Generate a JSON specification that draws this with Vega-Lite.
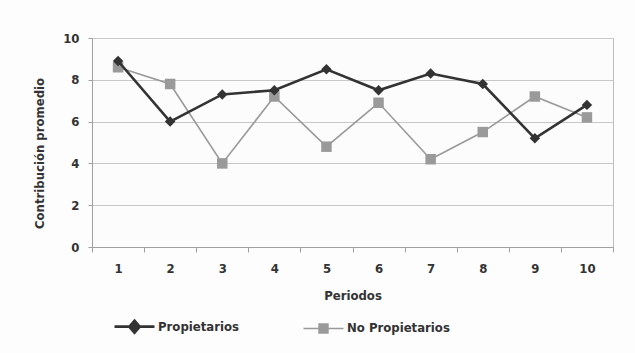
{
  "$schema": "https://vega.github.io/schema/vega-lite/v6.json",
  "width": 521,
  "height": 209,
  "autosize": "none",
  "padding": {"left": 92, "top": 38, "right": 22, "bottom": 106},
  "background": "#fdfdfd",
  "config": {
    "font": "DejaVu Sans Condensed, DejaVu Sans, sans-serif",
    "view": {"stroke": "#bdbdbd", "strokeWidth": 1, "fill": "#fcfcfc"},
    "axis": {
      "labelFont": "DejaVu Sans Condensed, DejaVu Sans, sans-serif",
      "titleFont": "DejaVu Sans Condensed, DejaVu Sans, sans-serif",
      "labelColor": "#333333",
      "titleColor": "#333333",
      "labelFontWeight": "bold",
      "titleFontWeight": "bold",
      "labelFontSize": 13,
      "titleFontSize": 13,
      "domainColor": "#a0a0a0",
      "tickColor": "#a0a0a0",
      "gridColor": "#c8c8c8"
    },
    "legend": {
      "labelFont": "DejaVu Sans Condensed, DejaVu Sans, sans-serif",
      "labelFontSize": 13,
      "labelFontWeight": "bold",
      "labelColor": "#333333"
    }
  },
  "data": {
    "values": [
      {"periodo": 1, "grupo": "Propietarios", "valor": 8.9},
      {"periodo": 2, "grupo": "Propietarios", "valor": 6.0},
      {"periodo": 3, "grupo": "Propietarios", "valor": 7.3},
      {"periodo": 4, "grupo": "Propietarios", "valor": 7.5},
      {"periodo": 5, "grupo": "Propietarios", "valor": 8.5},
      {"periodo": 6, "grupo": "Propietarios", "valor": 7.5},
      {"periodo": 7, "grupo": "Propietarios", "valor": 8.3},
      {"periodo": 8, "grupo": "Propietarios", "valor": 7.8},
      {"periodo": 9, "grupo": "Propietarios", "valor": 5.2},
      {"periodo": 10, "grupo": "Propietarios", "valor": 6.8},
      {"periodo": 1, "grupo": "No Propietarios", "valor": 8.6},
      {"periodo": 2, "grupo": "No Propietarios", "valor": 7.8},
      {"periodo": 3, "grupo": "No Propietarios", "valor": 4.0},
      {"periodo": 4, "grupo": "No Propietarios", "valor": 7.2},
      {"periodo": 5, "grupo": "No Propietarios", "valor": 4.8},
      {"periodo": 6, "grupo": "No Propietarios", "valor": 6.9},
      {"periodo": 7, "grupo": "No Propietarios", "valor": 4.2},
      {"periodo": 8, "grupo": "No Propietarios", "valor": 5.5},
      {"periodo": 9, "grupo": "No Propietarios", "valor": 7.2},
      {"periodo": 10, "grupo": "No Propietarios", "valor": 6.2}
    ]
  },
  "encoding": {
    "x": {
      "field": "periodo",
      "type": "ordinal",
      "title": "Periodos",
      "scale": {"paddingInner": 0, "paddingOuter": 0},
      "axis": {
        "labelAngle": 0,
        "labelPadding": 10,
        "tickBand": "extent",
        "tickSize": 5,
        "titlePadding": 14
      }
    },
    "y": {
      "field": "valor",
      "type": "quantitative",
      "title": "Contribución promedio",
      "scale": {"domain": [0, 10], "nice": false},
      "axis": {
        "values": [0, 2, 4, 6, 8, 10],
        "tickSize": 4,
        "labelPadding": 9,
        "titlePadding": 16,
        "titleY": 115
      }
    },
    "color": {
      "field": "grupo",
      "type": "nominal",
      "sort": ["Propietarios", "No Propietarios"],
      "scale": {"domain": ["Propietarios", "No Propietarios"], "range": ["#333333", "#9a9a9a"]},
      "legend": {
        "title": null,
        "orient": "none",
        "direction": "horizontal",
        "legendX": 36,
        "legendY": 282,
        "symbolSize": 1600,
        "labelOffset": 17,
        "columnPadding": 61,
        "encode": {
          "symbols": {
            "update": {
              "shape": {"signal": "datum.value === 'Propietarios' ? 'M-1,0L1,0M0,-0.3L0.26,0L0,0.3L-0.26,0Z' : 'M-1,0L1,0M-0.22,-0.22L0.22,-0.22L0.22,0.22L-0.22,0.22Z'"},
              "fill": {"signal": "datum.value === 'Propietarios' ? '#333333' : '#9a9a9a'"},
              "stroke": {"signal": "datum.value === 'Propietarios' ? '#333333' : '#9a9a9a'"},
              "strokeWidth": {"signal": "datum.value === 'Propietarios' ? 2.6 : 1.6"},
              "fillOpacity": {"value": 1},
              "strokeOpacity": {"value": 1},
              "opacity": {"value": 1}
            }
          }
        }
      }
    }
  },
  "layer": [
    {
      "transform": [{"filter": "datum.grupo === 'No Propietarios'"}],
      "mark": {"type": "line", "strokeWidth": 1.6}
    },
    {
      "transform": [{"filter": "datum.grupo === 'No Propietarios'"}],
      "mark": {"type": "point", "shape": "square", "filled": true, "opacity": 1, "size": 110}
    },
    {
      "transform": [{"filter": "datum.grupo === 'Propietarios'"}],
      "mark": {"type": "line", "strokeWidth": 2.6}
    },
    {
      "transform": [{"filter": "datum.grupo === 'Propietarios'"}],
      "mark": {"type": "point", "shape": "diamond", "filled": true, "opacity": 1, "size": 110}
    }
  ]
}
